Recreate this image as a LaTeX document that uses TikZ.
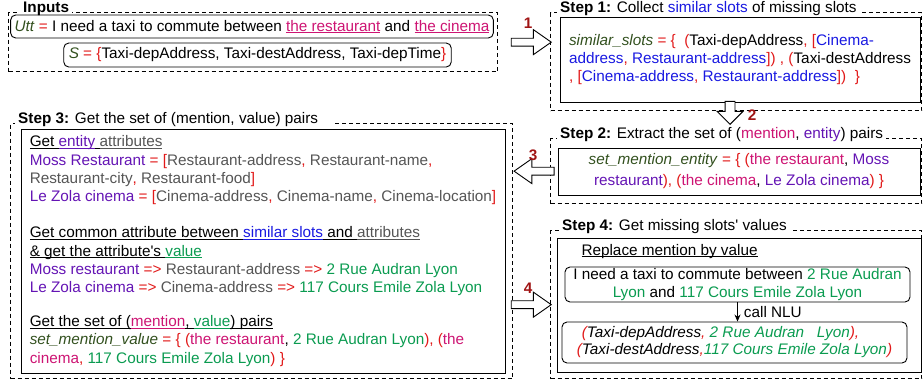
\documentclass[tikz,border=0pt]{standalone}
\usepackage{fontspec}
\setmainfont{Liberation Sans}
\usetikzlibrary{shapes.arrows,arrows.meta}
\definecolor{vargreen}{RGB}{50,80,30}
\definecolor{symred}{RGB}{225,25,25}
\definecolor{mentpink}{RGB}{205,20,115}
\definecolor{slotblue}{RGB}{25,25,225}
\definecolor{entpurple}{RGB}{100,20,180}
\definecolor{attrgray}{RGB}{85,85,85}
\definecolor{valgreen}{RGB}{10,155,80}
\definecolor{numred}{RGB}{160,20,20}
\newcommand{\cVar}[1]{\textcolor{vargreen}{\textit{#1}}}
\newcommand{\cSym}[1]{\textcolor{symred}{#1}}
\newcommand{\cMent}[1]{\textcolor{mentpink}{#1}}
\newcommand{\cSlot}[1]{\textcolor{slotblue}{#1}}
\newcommand{\cEnt}[1]{\textcolor{entpurple}{#1}}
\newcommand{\cAttr}[1]{\textcolor{attrgray}{#1}}
\newcommand{\cVal}[1]{\textcolor{valgreen}{#1}}
\newcommand{\undl}[1]{\leavevmode\setbox0\hbox{#1}\rlap{\rule[-2pt]{\wd0}{0.8pt}}\box0}
\begin{document}
\begin{tikzpicture}[x=1pt,y=-1pt,
	every node/.style={font=\fontsize{15.3}{18}\selectfont},
	frame/.style={draw, dash pattern=on 4pt off 3pt, line width=1.3pt, anchor=north west, inner sep=0pt},
	title/.style={fill=white, anchor=base west, inner xsep=3pt, inner ysep=1pt},
	box/.style={draw, line width=0.9pt, inner sep=0pt},
	rbox/.style={box, rounded corners=5pt},
	bigarrow/.style={single arrow, draw, fill=white, line width=0.9pt, inner sep=3.5pt, minimum height=40pt, single arrow head extend=8.5pt, single arrow tip angle=70, anchor=tip},
	stepnum/.style={text=numred, font=\fontsize{15.3}{18}\selectfont\bfseries}]
	\useasboundingbox (0,0) rectangle (923,381);

	\node[frame, minimum width=489pt, minimum height=59pt] (inputs) at (8,12) {};
	\node[title] (inputstitle) at ([xshift=12pt]inputs.north west) {\textbf{Inputs}};
	\node[rbox, inner xsep=4pt, minimum height=23pt] (utt) at (252,26.5) {\cVar{Utt} \cSym{=} I need a taxi to commute between \cMent{\undl{the restaurant}} and \cMent{\undl{the cinema}}};
	\node[rbox, inner xsep=5pt, minimum height=24pt] (slots) at (257.5,55) {\cVar{S} \cSym{= \{}Taxi-depAddress, Taxi-destAddress, Taxi-depTime\cSym{\}}};

	\node[frame, minimum width=371pt, minimum height=98pt] (step1) at (550,12) {};
	\node[title] (step1title) at ([xshift=7pt]step1.north west) {\textbf{Step 1:} Collect \cSlot{similar slots} of missing slots};
	\node[box, minimum width=360pt, minimum height=85pt, align=left] (simslots) at (740,59.5) {\cVar{similar\_slots} \cSym{= \{\ \ (}Taxi-depAddress\cSym{, [}\cSlot{Cinema-}\\
		\cSlot{address}\cSym{,} \cSlot{Restaurant-address}\cSym{]) , (}Taxi-destAddress\\
		\cSym{, [}\cSlot{Cinema-address}\cSym{,} \cSlot{Restaurant-address}\cSym{])\ \ \}}};

	\node[frame, minimum width=371pt, minimum height=65pt] (step2) at (550,138) {};
	\node[title] (step2title) at ([xshift=7pt]step2.north west) {\textbf{Step 2:} Extract the set of (\cMent{mention}, \cEnt{entity}) pairs};
	\node[box, minimum width=362pt, minimum height=47pt, align=center, font=\fontsize{15.3}{21}\selectfont] (mentent) at (739,171.5) {\cVar{set\_mention\_entity} \cSym{= \{ (}\cMent{the restaurant}, \cEnt{Moss}\\
		\cEnt{restaurant}\cSym{), (}\cMent{the cinema}, \cEnt{Le Zola cinema}\cSym{) \}}};

	\node[frame, minimum width=502pt, minimum height=255pt] (step3) at (10,123) {};
	\node[title] (step3title) at ([xshift=5pt]step3.north west) {\textbf{Step 3:} Get the set of (mention, value) pairs\hspace*{14pt}};
	\node[box, minimum width=484pt, minimum height=244pt, align=left, font=\fontsize{15.3}{18.2}\selectfont] (mentval) at (263,251) {\undl{Get }\cEnt{\undl{entity}}\undl{ }\cAttr{\undl{attributes}}\\
		\cEnt{Moss Restaurant} \cSym{= [}\cAttr{Restaurant-address}\cSym{,} \cAttr{Restaurant-name}\cSym{,}\\
		\cAttr{Restaurant-city}\cSym{,} \cAttr{Restaurant-food}\cSym{]}\\
		\cEnt{Le Zola cinema} \cSym{= [}\cAttr{Cinema-address}\cSym{,} \cAttr{Cinema-name}\cSym{,} \cAttr{Cinema-location}\cSym{]}\\[18.2pt]
		\undl{Get common attribute between }\cSlot{\undl{similar slots}}\undl{ and }\cAttr{\undl{attributes}}\\
		\undl{\& get the attribute\textquotesingle s }\cVal{\undl{value}}\\
		\cEnt{Moss restaurant} \cSym{=>} \cAttr{Restaurant-address} \cSym{=>} \cVal{2 Rue Audran Lyon}\\
		\cEnt{Le Zola cinema} \cSym{=>} \cAttr{Cinema-address} \cSym{=>} \cVal{117 Cours Emile Zola Lyon}\\[16pt]
		\undl{Get the set of (}\cMent{\undl{mention}}\undl{, }\cVal{\undl{value}}\undl{) pairs}\\
		\cVar{set\_mention\_value} \cSym{= \{ (}\cMent{the restaurant}, \cVal{2 Rue Audran Lyon}\cSym{), (}\cMent{the}\\
		\cMent{cinema}\cSym{,} \cVal{117 Cours Emile Zola Lyon}\cSym{) \}}};

	\node[frame, minimum width=371pt, minimum height=148pt] (step4) at (550,230) {};
	\node[title] (step4title) at ([xshift=9pt]step4.north west) {\textbf{Step 4:} Get missing slots\textquotesingle\ values};
	\node[box, minimum width=364pt, minimum height=134pt] (fillbox) at (739,305) {};
	\node[anchor=base west] (replace) at (578,255) {\undl{Replace mention by value}};
	\node[rbox, minimum width=345pt, minimum height=35pt, align=center] (sent) at (737.5,284.5) {I need a taxi to commute between \cVal{2 Rue Audran}\\
		\cVal{Lyon} and \cVal{117 Cours Emile Zola Lyon}};
	\node[rbox, minimum width=345pt, minimum height=41pt, align=left, font=\fontsize{15.3}{17}\selectfont\itshape] (nlu) at (734.5,342.5) {\hspace*{5pt}\cSym{(}Taxi-depAddress\cSym{,} \cVal{2 Rue Audran\ \ \ Lyon}\cSym{),}\\
		\cSym{(}Taxi-destAddress\cSym{,}\cVal{117 Cours Emile Zola Lyon}\cSym{)}};
	\draw[-{Stealth[length=7pt,width=6pt]}, line width=0.9pt] (sent.south) -- (sent.south |- nlu.north) node[midway, right, inner xsep=6pt] (callnlu) {call NLU};

	\node[bigarrow, xshift=2pt] (arr1) at (step1.west |- inputs.center) {};
	\node[bigarrow, shape border rotate=270, minimum height=23pt, inner sep=4.5pt, single arrow head extend=8pt, single arrow tip angle=90] (arr2) at (730,125) {};
	\node[bigarrow, shape border rotate=180] (arr3) at (step3.east |- step2.center) {};
	\node[bigarrow, xshift=2pt] (arr4) at (step4.west) {};
	\foreach \n/\x/\y in {1/528/23, 2/752/115, 3/533/155, 4/528/288}{
		\node[stepnum] (num\n) at (\x,\y) {\n};}
\end{tikzpicture}
\end{document}
